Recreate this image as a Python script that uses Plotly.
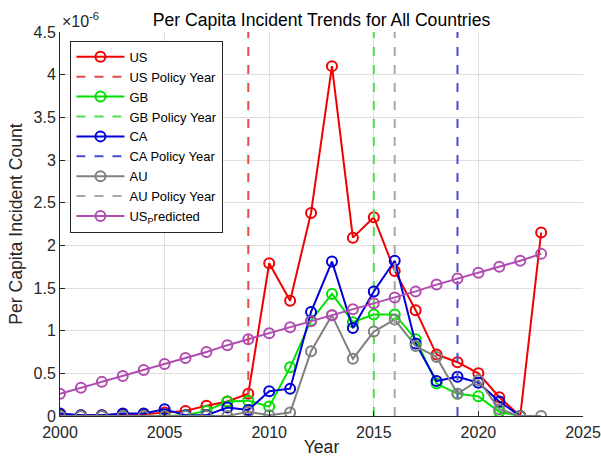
import plotly.graph_objects as go

# Incident counts per capita, in units of 1e-6
years = list(range(2000, 2024))
years_short = list(range(2000, 2023))

us = [0.02, 0.01, 0.01, 0.02, 0.02, 0.04, 0.06, 0.12, 0.17, 0.26,
      1.79, 1.35, 2.38, 4.10, 2.09, 2.33, 1.70, 1.24, 0.72, 0.63,
      0.50, 0.22, 0.00, 2.15]
gb = [0.00, 0.00, 0.00, 0.00, 0.00, 0.00, 0.01, 0.06, 0.17, 0.18,
      0.11, 0.57, 1.12, 1.43, 1.10, 1.19, 1.19, 0.90, 0.38, 0.26,
      0.23, 0.05, 0.00]
ca = [0.03, 0.01, 0.01, 0.03, 0.03, 0.08, 0.01, 0.01, 0.10, 0.07,
      0.29, 0.32, 1.22, 1.81, 1.03, 1.46, 1.82, 0.85, 0.41, 0.46,
      0.39, 0.17, 0.00]
au = [0.00, 0.00, 0.00, 0.00, 0.00, 0.00, 0.00, 0.00, 0.00, 0.05,
      0.01, 0.04, 0.76, 1.18, 0.67, 0.99, 1.13, 0.82, 0.69, 0.26,
      0.42, 0.08, 0.00, 0.00]
us_predicted = [0.26, 0.33, 0.40, 0.47, 0.54, 0.61, 0.68, 0.75, 0.83, 0.90,
                0.97, 1.04, 1.11, 1.18, 1.25, 1.32, 1.39, 1.46, 1.54, 1.61,
                1.68, 1.75, 1.82, 1.90]

policy_years = {"US": 2009, "GB": 2015, "CA": 2019, "AU": 2016}

y_range = [0, 4.5]
y_ticks = [0, 0.5, 1, 1.5, 2, 2.5, 3, 3.5, 4, 4.5]
y_tick_text = ["0", "0.5", "1", "1.5", "2", "2.5", "3", "3.5", "4", "4.5"]
x_ticks = [2000, 2005, 2010, 2015, 2020, 2025]

FONT = "Liberation Sans, Arial, Helvetica, sans-serif"

series = [
    ("US", years, us, "#f00000", "#e84a4a"),
    ("GB", years_short, gb, "#00e000", "#4fdc4f"),
    ("CA", years_short, ca, "#0000d8", "#4a4ad8"),
    ("AU", years, au, "#808080", "#a8a8a8"),
]

fig = go.Figure()

for name, xs, ys, color, dash_color in series:
    fig.add_trace(go.Scatter(
        x=xs, y=ys, name=name, mode="lines+markers",
        line=dict(color=color, width=2),
        marker=dict(symbol="circle-open", size=10, color=color,
                    line=dict(color=color, width=2)),
    ))
    yr = policy_years[name]
    fig.add_trace(go.Scatter(
        x=[yr, yr], y=y_range, name=f"{name} Policy Year", mode="lines",
        line=dict(color=dash_color, width=2, dash="dash"),
    ))

fig.add_trace(go.Scatter(
    x=years, y=us_predicted, name="US<sub>P</sub>redicted", mode="lines+markers",
    line=dict(color="#b04cb0", width=2),
    marker=dict(symbol="circle-open", size=10, color="#b04cb0",
                line=dict(color="#b04cb0", width=2)),
))

axis_common = dict(
    showgrid=True, gridcolor="#dedede", gridwidth=1,
    showline=True, linecolor="#262626", linewidth=1,
    ticks="inside", ticklen=5, tickcolor="#262626",
    tickfont=dict(family=FONT, size=16, color="#262626"),
    zeroline=False, mirror=False, automargin=False,
)

fig.update_layout(
    width=601, height=461,
    margin=dict(l=60, r=18, t=32, b=45),
    paper_bgcolor="white", plot_bgcolor="white",
    font=dict(family=FONT, color="#262626"),
    title=dict(text="Per Capita Incident Trends for All Countries",
               x=0.535, xanchor="center", y=0.958, yanchor="middle",
               font=dict(family=FONT, size=17.6, color="#000000")),
    xaxis=dict(range=[2000, 2025], tickvals=x_ticks, ticklabelstandoff=2,
               title=dict(text="Year", standoff=0,
                          font=dict(family=FONT, size=17.6, color="#262626")),
               **axis_common),
    yaxis=dict(range=y_range, tickvals=y_ticks, ticktext=y_tick_text,
               title=dict(text="Per Capita Incident Count", standoff=6,
                          font=dict(family=FONT, size=17.6, color="#262626")),
               **axis_common),
    legend=dict(x=0.02, y=0.977, xanchor="left", yanchor="top",
                bgcolor="white", bordercolor="#262626", borderwidth=1,
                font=dict(family=FONT, size=13, color="#000000"),
                itemwidth=48, tracegroupgap=0),
    showlegend=True,
)

fig.add_annotation(
    text="×10<sup>-6</sup>", xref="paper", yref="paper",
    x=0, y=1, xanchor="left", yanchor="bottom", showarrow=False,
    font=dict(family=FONT, size=16, color="#262626"),
)

fig.write_html("out.html")
